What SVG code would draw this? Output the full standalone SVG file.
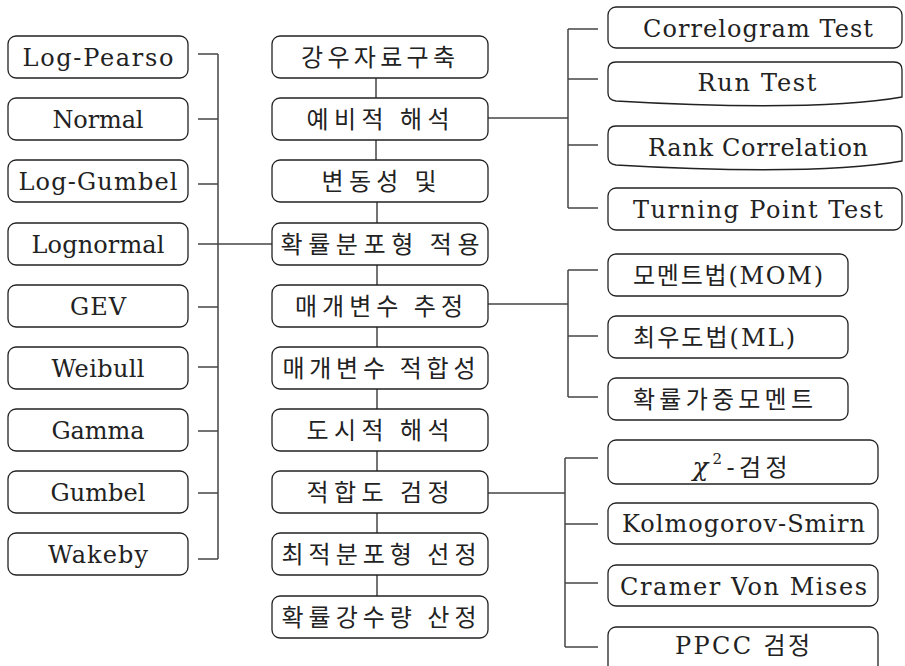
<svg xmlns="http://www.w3.org/2000/svg" width="905" height="666" viewBox="0 0 905 666">
<style>
.b{fill:#fff;stroke:#222;stroke-width:1.3}
text{fill:#222;text-anchor:middle}
.t{font-size:24px}
.k{font-size:24px}
.c line{stroke:#444;stroke-width:1.5}
</style>
<rect width="905" height="666" fill="#fff"/>
<g class="c" id="connectors">
<line x1="218" y1="54" x2="218" y2="559"/>
<line x1="198" y1="54" x2="218" y2="54"/>
<line x1="198" y1="119" x2="218" y2="119"/>
<line x1="198" y1="184" x2="218" y2="184"/>
<line x1="198" y1="244" x2="272" y2="244"/>
<line x1="198" y1="307" x2="218" y2="307"/>
<line x1="198" y1="367" x2="218" y2="367"/>
<line x1="198" y1="431" x2="218" y2="431"/>
<line x1="198" y1="493" x2="218" y2="493"/>
<line x1="198" y1="559" x2="218" y2="559"/>
<line x1="376" y1="78" x2="376" y2="98"/>
<line x1="376" y1="140" x2="376" y2="160"/>
<line x1="377" y1="202" x2="377" y2="223"/>
<line x1="377" y1="265" x2="377" y2="285"/>
<line x1="377" y1="327" x2="377" y2="347"/>
<line x1="377" y1="389" x2="377" y2="409"/>
<line x1="377" y1="451" x2="377" y2="471"/>
<line x1="377" y1="513" x2="377" y2="533"/>
<line x1="377" y1="575" x2="377" y2="596"/>
<line x1="488" y1="118" x2="568" y2="118"/>
<line x1="568" y1="29" x2="568" y2="208"/>
<line x1="568" y1="29" x2="598" y2="29"/>
<line x1="568" y1="79" x2="598" y2="79"/>
<line x1="568" y1="145" x2="598" y2="145"/>
<line x1="568" y1="208" x2="598" y2="208"/>
<line x1="488" y1="304" x2="568" y2="304"/>
<line x1="568" y1="270" x2="568" y2="397"/>
<line x1="568" y1="270" x2="598" y2="270"/>
<line x1="568" y1="336" x2="598" y2="336"/>
<line x1="568" y1="397" x2="598" y2="397"/>
<line x1="488" y1="493" x2="565" y2="493"/>
<line x1="565" y1="458" x2="565" y2="647"/>
<line x1="565" y1="458" x2="598" y2="458"/>
<line x1="565" y1="524" x2="598" y2="524"/>
<line x1="565" y1="583" x2="598" y2="583"/>
<line x1="565" y1="647" x2="598" y2="647"/>
</g>
<g id="left-nodes" font-family="'DejaVu Serif'">
<g id="n-logpearson"><rect class="b" x="8" y="36" width="180" height="42" rx="8"/><text class="t" x="98" y="66" textLength="151">Log-Pearso</text></g>
<g id="n-normal"><rect class="b" x="8" y="98" width="180" height="42" rx="8"/><text class="t" x="98" y="128" textLength="91">Normal</text></g>
<g id="n-loggumbel"><rect class="b" x="8" y="160" width="180" height="42" rx="8"/><text class="t" x="98" y="190" textLength="159">Log-Gumbel</text></g>
<g id="n-lognormal"><rect class="b" x="8" y="223" width="180" height="42" rx="8"/><text class="t" x="98" y="253" textLength="133">Lognormal</text></g>
<g id="n-gev"><rect class="b" x="8" y="285" width="180" height="42" rx="8"/><text class="t" x="98" y="315" textLength="56">GEV</text></g>
<g id="n-weibull"><rect class="b" x="8" y="347" width="180" height="42" rx="8"/><text class="t" x="98" y="377" textLength="93">Weibull</text></g>
<g id="n-gamma"><rect class="b" x="8" y="409" width="180" height="42" rx="8"/><text class="t" x="98" y="439" textLength="93">Gamma</text></g>
<g id="n-gumbel"><rect class="b" x="8" y="471" width="180" height="42" rx="8"/><text class="t" x="98" y="501" textLength="95">Gumbel</text></g>
<g id="n-wakeby"><rect class="b" x="8" y="533" width="180" height="42" rx="8"/><text class="t" x="98" y="563" textLength="100">Wakeby</text></g>
</g>
<g id="center-nodes" font-family="'Noto Sans CJK KR', sans-serif">
<g id="c1"><rect class="b" x="272" y="36" width="216" height="42" rx="8"/><text class="k" x="378" y="65.5" textLength="154">강우자료구축</text></g>
<g id="c2"><rect class="b" x="272" y="98" width="216" height="42" rx="8"/><text class="k" x="378" y="127.5" textLength="143">예비적 해석</text></g>
<g id="c3"><rect class="b" x="272" y="160" width="216" height="42" rx="8"/><text class="k" x="379" y="189.5" textLength="115">변동성 및</text></g>
<g id="c4"><rect class="b" x="272" y="223" width="216" height="42" rx="8"/><text class="k" x="380" y="252.5" textLength="199">확률분포형 적용</text></g>
<g id="c5"><rect class="b" x="272" y="285" width="216" height="42" rx="8"/><text class="k" x="379" y="314.5" textLength="168">매개변수 추정</text></g>
<g id="c6"><rect class="b" x="272" y="347" width="216" height="42" rx="8"/><text class="k" x="379" y="376.5" textLength="193">매개변수 적합성</text></g>
<g id="c7"><rect class="b" x="272" y="409" width="216" height="42" rx="8"/><text class="k" x="378" y="438.5" textLength="143">도시적 해석</text></g>
<g id="c8"><rect class="b" x="272" y="471" width="216" height="42" rx="8"/><text class="k" x="378" y="500.5" textLength="143">적합도 검정</text></g>
<g id="c9"><rect class="b" x="272" y="533" width="216" height="42" rx="8"/><text class="k" x="379" y="562.5" textLength="195">최적분포형 선정</text></g>
<g id="c10"><rect class="b" x="272" y="596" width="216" height="42" rx="8"/><text class="k" x="379" y="625.5" textLength="195">확률강수량 산정</text></g>
</g>
<g id="right-top" font-family="'DejaVu Serif'">
<g id="r-correlogram"><rect class="b" x="608" y="7" width="294" height="41" rx="8"/><text class="t" x="758" y="37" textLength="230">Correlogram Test</text></g>
<g id="r-run"><path class="b" d="M616,62 H894 Q902,62 902,70 V97 C830,110 700,106 616,101 Q608,100 608,93 V70 Q608,62 616,62 Z"/><text class="t" x="757" y="91" textLength="119">Run Test</text></g>
<g id="r-rank"><path class="b" d="M616,126 H894 Q902,126 902,134 V161 C830,174 700,170 616,165 Q608,164 608,157 V134 Q608,126 616,126 Z"/><text class="t" x="758" y="156" textLength="220">Rank Correlation</text></g>
<g id="r-turning"><rect class="b" x="608" y="188" width="294" height="42" rx="8"/><text class="t" x="758" y="218" textLength="250">Turning Point Test</text></g>
</g>
<g id="right-mid" font-family="'DejaVu Serif', 'Noto Sans CJK KR', serif">
<g id="r-mom"><rect class="b" x="608" y="254" width="240" height="42" rx="8"/><text class="t" x="728" y="284" textLength="190">모멘트법(MOM)</text></g>
<g id="r-ml"><rect class="b" x="608" y="316" width="240" height="42" rx="8"/><text class="t" x="714" y="346" textLength="162">최우도법(ML)</text></g>
<g id="r-pwm"><rect class="b" x="608" y="378" width="240" height="42" rx="8"/><text class="k" x="723" y="407.5" textLength="180" font-family="'Noto Sans CJK KR', sans-serif">확률가중모멘트</text></g>
</g>
<g id="right-bottom" font-family="'DejaVu Serif', 'Noto Sans CJK KR', serif">
<g id="r-chi"><rect class="b" x="608" y="440" width="270" height="44" rx="8"/><text class="t" x="740" y="476" textLength="95"><tspan font-style="italic" font-size="26">χ</tspan><tspan font-size="15" dy="-12">2</tspan><tspan dy="12">-검정</tspan></text></g>
<g id="r-ks"><rect class="b" x="608" y="503" width="270" height="41" rx="8"/><text class="t" x="743.5" y="532" textLength="243">Kolmogorov-Smirn</text></g>
<g id="r-cvm"><rect class="b" x="608" y="565" width="270" height="41" rx="8"/><text class="t" x="743.5" y="595" textLength="247">Cramer Von Mises</text></g>
<g id="r-ppcc"><rect class="b" x="608" y="627" width="270" height="50" rx="8"/><text class="t" x="742.5" y="654" textLength="135">PPCC 검정</text></g>
</g>
</svg>
